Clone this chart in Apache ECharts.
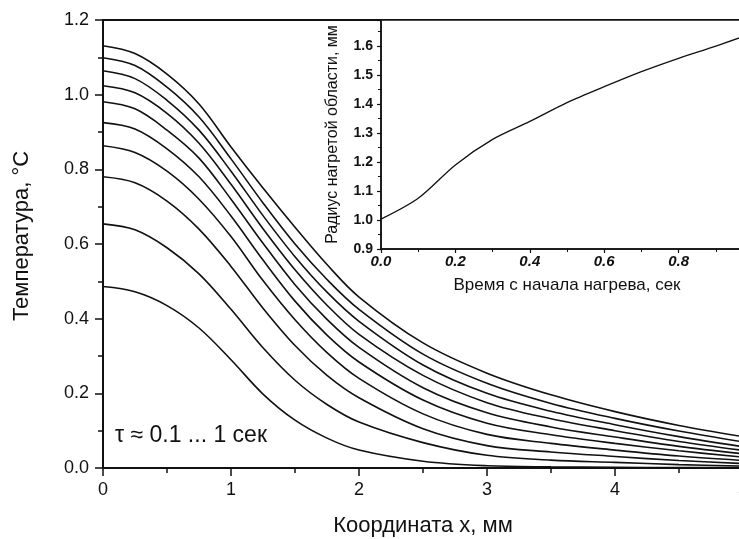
<!DOCTYPE html>
<html>
<head>
<meta charset="utf-8">
<script src="https://cdn.jsdelivr.net/npm/echarts@6/dist/echarts.min.js"></script>
<style>
  html, body { margin: 0; padding: 0; background: #fff; }
  #chart { width: 739px; height: 539px; }
</style>
</head>
<body>
<div id="chart"></div>
<script>
// Температурные профили: координата x, мм
const X_MM = [0, 0.25, 0.5, 0.75, 1.0, 1.25, 1.5, 1.75, 2.0, 2.5, 3.0, 3.5, 4.0, 4.5, 5.0];

// τ = 0.1 ... 1 сек, снизу вверх
const T_01 = [0.486, 0.472, 0.435, 0.375, 0.290, 0.198, 0.128, 0.080, 0.048, 0.018, 0.006, 0.003, 0.002, 0.001, 0.001];
const T_02 = [0.654, 0.638, 0.590, 0.520, 0.425, 0.322, 0.235, 0.170, 0.123, 0.068, 0.034, 0.021, 0.015, 0.009, 0.005];
const T_03 = [0.780, 0.764, 0.715, 0.640, 0.540, 0.428, 0.328, 0.248, 0.188, 0.105, 0.060, 0.043, 0.031, 0.020, 0.012];
const T_04 = [0.863, 0.845, 0.795, 0.720, 0.620, 0.502, 0.397, 0.309, 0.240, 0.145, 0.090, 0.066, 0.048, 0.032, 0.020];
const T_05 = [0.925, 0.908, 0.855, 0.780, 0.675, 0.557, 0.447, 0.356, 0.284, 0.182, 0.120, 0.089, 0.066, 0.046, 0.029];
const T_06 = [0.981, 0.962, 0.905, 0.830, 0.720, 0.602, 0.491, 0.398, 0.323, 0.215, 0.148, 0.110, 0.083, 0.058, 0.038];
const T_07 = [1.024, 1.005, 0.950, 0.870, 0.760, 0.641, 0.531, 0.436, 0.358, 0.248, 0.175, 0.132, 0.100, 0.071, 0.047];
const T_08 = [1.064, 1.043, 0.985, 0.905, 0.795, 0.676, 0.566, 0.471, 0.393, 0.276, 0.200, 0.152, 0.116, 0.084, 0.057];
const T_09 = [1.099, 1.078, 1.020, 0.940, 0.828, 0.710, 0.600, 0.505, 0.425, 0.305, 0.227, 0.173, 0.133, 0.099, 0.070];
const T_10 = [1.131, 1.110, 1.055, 0.975, 0.860, 0.750, 0.645, 0.545, 0.458, 0.335, 0.254, 0.196, 0.151, 0.114, 0.084];
const CURVES = [T_01, T_02, T_03, T_04, T_05, T_06, T_07, T_08, T_09, T_10];

// Врезка: радиус нагретой области от времени
const T_SEC = [0, 0.1, 0.2, 0.3, 0.4, 0.5, 0.6, 0.7, 0.8, 0.9, 1.0];
const R_MM = [1.003, 1.075, 1.190, 1.278, 1.340, 1.405, 1.460, 1.512, 1.558, 1.600, 1.645];

const FONT = "'Liberation Sans', Arial, sans-serif";
const INK = '#111';

const chart = echarts.init(document.getElementById('chart'));

const mainSeries = CURVES.map((vals, i) => ({
  name: 'tau' + (i + 1),
  type: 'line',
  xAxisIndex: 0,
  yAxisIndex: 0,
  data: X_MM.map((x, j) => [x, vals[j]]),
  smooth: 0.35,
  symbol: 'none',
  lineStyle: { color: INK, width: 1.6 }
}));

chart.setOption({
  animation: false,
  backgroundColor: '#fff',
  textStyle: { fontFamily: FONT },
  grid: [
    { left: 103, top: 20, width: 640, height: 448, outerBoundsMode: 'none', containLabel: false,
      show: true, borderColor: INK, borderWidth: 2, backgroundColor: 'transparent' },
    { left: 381, top: 20, width: 372, height: 229, outerBoundsMode: 'none', containLabel: false,
      show: true, borderColor: INK, borderWidth: 1.5, backgroundColor: '#fff' }
  ],
  xAxis: [
    {
      gridIndex: 0, type: 'value', min: 0, max: 5, interval: 1,
      name: 'Координата x, мм', nameLocation: 'middle', nameGap: 47,
      nameTextStyle: { fontSize: 22, color: INK, fontFamily: FONT },
      axisLine: { onZero: false, lineStyle: { color: INK, width: 2 } },
      axisTick: { length: 8, lineStyle: { color: INK, width: 1.5 } },
      minorTick: { show: true, splitNumber: 2, length: 5, lineStyle: { color: INK, width: 1.5 } },
      axisLabel: { fontSize: 18, color: INK, margin: 13, fontFamily: FONT },
      splitLine: { show: false }
    },
    {
      gridIndex: 1, type: 'value', min: 0, max: 1, interval: 0.2,
      name: 'Время с начала нагрева, сек', nameLocation: 'middle', nameGap: 28,
      nameTextStyle: { fontSize: 17, color: INK, fontFamily: FONT },
      axisLine: { onZero: false, lineStyle: { color: INK, width: 1.5 } },
      axisTick: { length: 4, lineStyle: { color: INK, width: 1.2 } },
      minorTick: { show: true, splitNumber: 2, length: 3, lineStyle: { color: INK, width: 1 } },
      axisLabel: { fontSize: 15, fontWeight: 'bold', fontStyle: 'italic', color: INK, margin: 5, fontFamily: FONT,
        formatter: v => v.toFixed(1) },
      splitLine: { show: false }
    }
  ],
  yAxis: [
    {
      gridIndex: 0, type: 'value', min: 0, max: 1.2, interval: 0.2,
      name: 'Температура, °С', nameLocation: 'middle', nameGap: 70, nameRotate: 90,
      nameTextStyle: { fontSize: 22, color: INK, fontFamily: FONT, padding: [0, 0, 0, 16] },
      axisLine: { lineStyle: { color: INK, width: 2 } },
      axisTick: { length: 8, lineStyle: { color: INK, width: 1.5 } },
      minorTick: { show: true, splitNumber: 2, length: 5, lineStyle: { color: INK, width: 1.5 } },
      axisLabel: { fontSize: 18, color: INK, margin: 14, fontFamily: FONT, formatter: v => v.toFixed(1) },
      splitLine: { show: false }
    },
    {
      gridIndex: 1, type: 'value', min: 0.9, max: 1.69, interval: 0.1,
      name: 'Радиус нагретой области, мм', nameLocation: 'middle', nameGap: 40, nameRotate: 90,
      nameTextStyle: { fontSize: 16, color: INK, fontFamily: FONT },
      axisLine: { lineStyle: { color: INK, width: 1.5 } },
      axisTick: { length: 4, lineStyle: { color: INK, width: 1.2 } },
      minorTick: { show: true, splitNumber: 2, length: 3, lineStyle: { color: INK, width: 1 } },
      axisLabel: { fontSize: 14, fontWeight: 'bold', color: INK, margin: 8, fontFamily: FONT,
        showMaxLabel: false, formatter: v => v.toFixed(1) },
      splitLine: { show: false }
    }
  ],
  graphic: [
    { type: 'text', left: 115, top: 424, z: 10,
      style: { text: 'τ ≈ 0.1 ... 1 сек', fontSize: 23, fill: INK, fontFamily: FONT } }
  ],
  series: mainSeries.concat([{
    name: 'radius',
    type: 'line',
    xAxisIndex: 1,
    yAxisIndex: 1,
    data: T_SEC.map((t, i) => [t, R_MM[i]]),
    smooth: 0.3,
    symbol: 'none',
    lineStyle: { color: INK, width: 1.3 }
  }])
});
</script>
</body>
</html>
